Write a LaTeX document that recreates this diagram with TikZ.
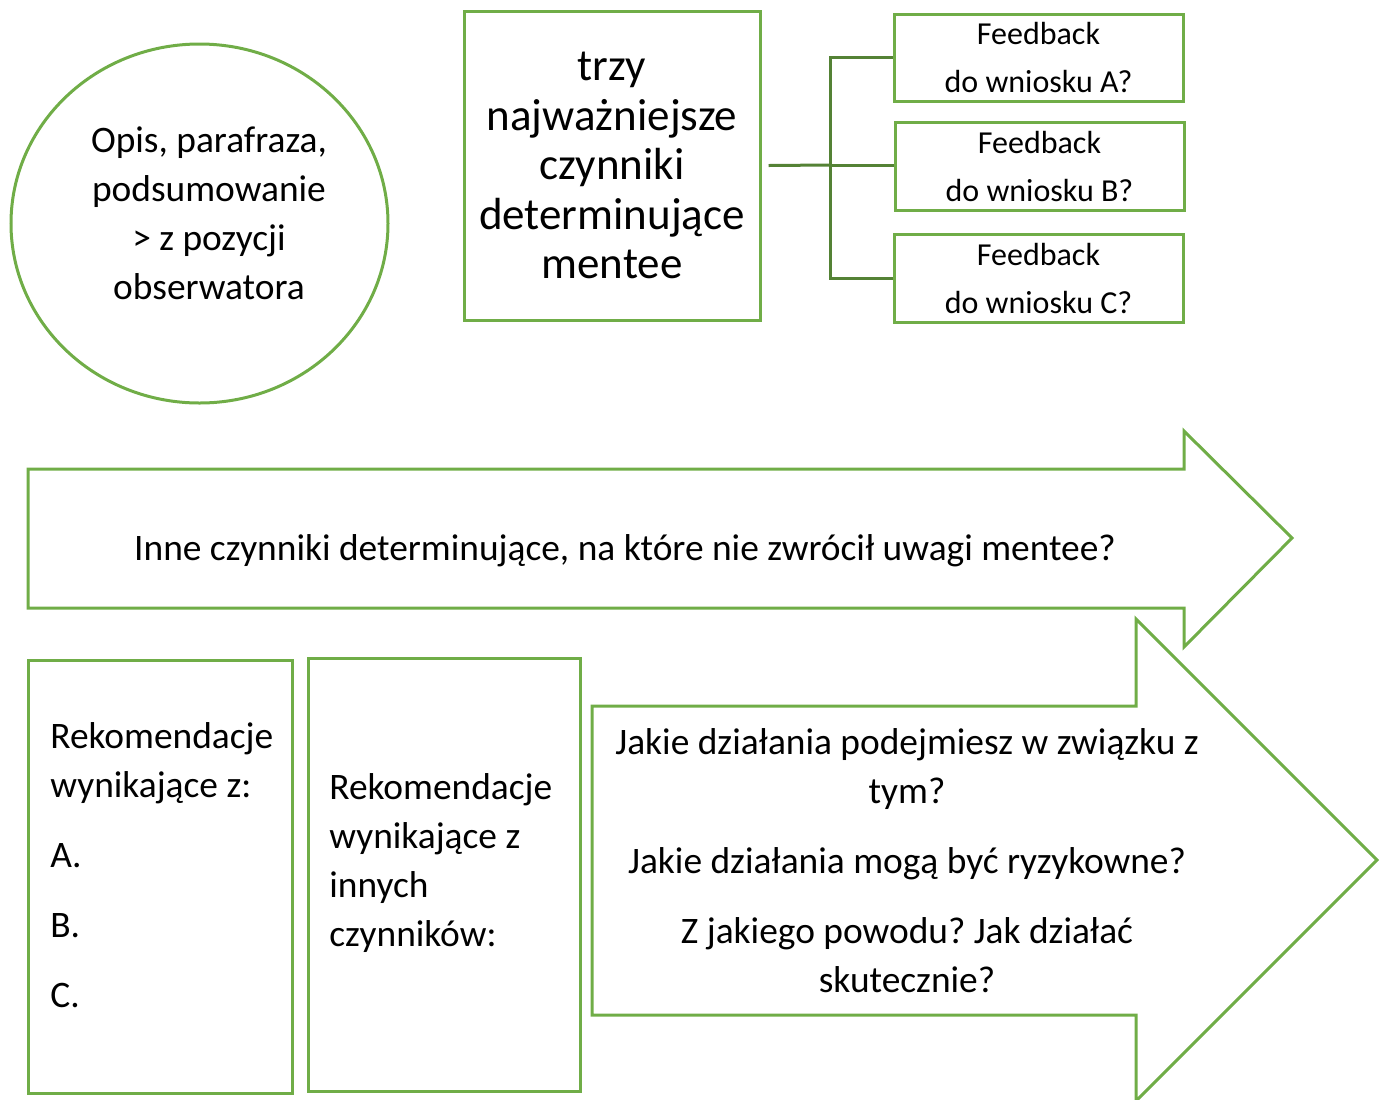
\documentclass[tikz,border=0pt]{standalone}
\usepackage{fontspec}
\setmainfont{Carlito}
\frenchspacing
\usetikzlibrary{shapes,positioning}
\definecolor{leaf}{HTML}{70AD47}
\definecolor{stem}{HTML}{548235}

\begin{document}
\begin{tikzpicture}[x=0.5pt,y=-0.5pt,
    box/.style={draw=leaf, line width=1.5pt, inner sep=0pt},
    link/.style={draw=stem, line width=1.5pt},
    txt/.style={font=\fontsize{18.7}{24.5}\selectfont, inner sep=0pt},
    small/.style={font=\fontsize{16}{24}\selectfont, align=center}]
    \useasboundingbox (0,0) rectangle (1381,1099);

    % circle and the central box
    \node[box, ellipse, minimum width=188.5pt, minimum height=179.5pt] (desc) at (199.5,223.5) {};
    \node[txt, align=center] (descText) at (209,213.5) {Opis, parafraza,\\podsumowanie\\> z pozycji\\obserwatora};
    \node[box, minimum width=148pt, minimum height=154.5pt, align=center,
          font=\fontsize{22.5}{24.75}\selectfont] (core) at (612,165.5)
          {trzy\\najważniejsze\\czynniki\\determinujące\\mentee};

    % feedback boxes
    \node[box, small, minimum width=144.5pt, minimum height=43.5pt] (fbA) at (1038.5,57.5) {Feedback\\do wniosku A?};
    \node[box, small, minimum width=144.5pt, minimum height=44pt] (fbB) at (1039.5,166) {Feedback\\do wniosku B?};
    \node[box, small, minimum width=144.5pt, minimum height=44pt] (fbC) at (1038.5,278) {Feedback\\do wniosku C?};

    \coordinate (split) at (830,165);
    \draw[link] ([xshift=3.5pt]core.east) -- (split);
    \draw[link] (split) |- (fbA.west);
    \draw[link] (split) -- (split -| fbB.west);
    \draw[link] (split) |- (fbC.west);

    % first arrow
    \draw[leaf, line width=1.5pt] (28,469) -- (1184,469) -- (1184,431) -- (1292,538)
        -- (1184,647) -- (1184,608) -- (28,608) -- cycle;
    \node[txt] (other) at (625,551) {Inne czynniki determinujące, na które nie zwrócił uwagi mentee?};

    % recommendations
    \node[box, minimum width=132pt, minimum height=216.5pt] (recA) at (160,876.5) {};
    \node[txt, anchor=west, align=left] (recAText) at (50,865.5)
        {Rekomendacje\\wynikające z:\\[10.5pt]A.\\[10.5pt]B.\\[10.5pt]C.};
    \node[box, minimum width=136pt, minimum height=216.5pt] (recB) at (444,874.5) {};
    \node[txt, anchor=west, align=left] (recBText) at (329,863.5)
        {Rekomendacje\\wynikające z\\innych\\czynników:};

    % second arrow
    \draw[leaf, line width=1.5pt] (592,706) -- (1136,706) -- (1136,619) -- (1377,860)
        -- (1136,1101) -- (1136,1015) -- (592,1015) -- cycle;
    \node[txt, align=center] (actions) at (907,861)
        {Jakie działania podejmiesz w związku z\\tym?\\[10.5pt]Jakie działania mogą być ryzykowne?\\[10.5pt]Z jakiego powodu? Jak działać\\skutecznie?};
\end{tikzpicture}
\end{document}
